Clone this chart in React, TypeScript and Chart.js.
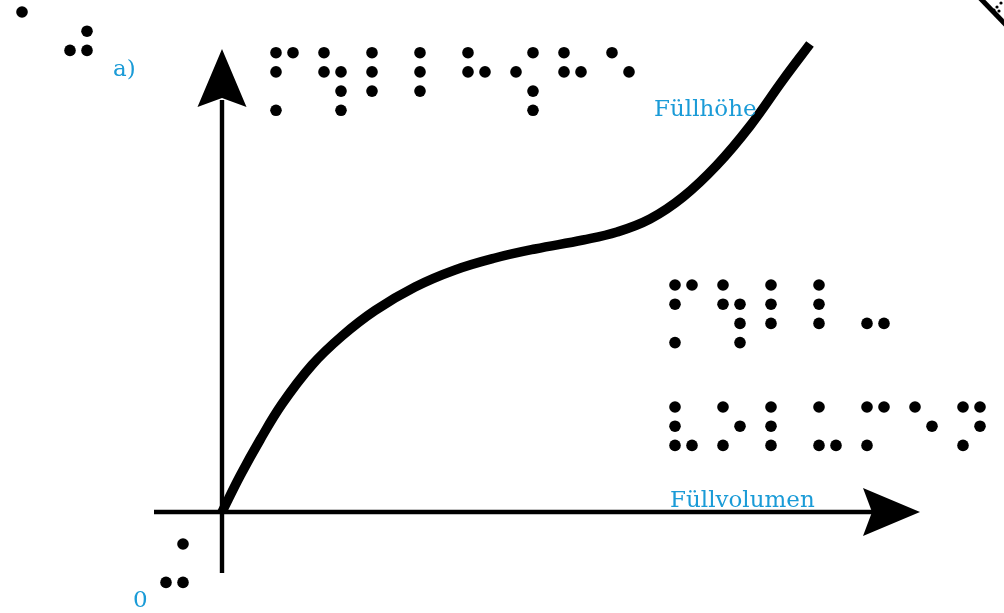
import React, { useEffect, useRef } from 'react';
import { Chart, registerables } from 'chart.js';
Chart.register(...registerables);

// Füllvolumen (x) and Füllhöhe (y) in arbitrary units
const volume = [0, 0.3, 0.633, 1.0, 1.5, 2.0, 2.55, 3.217, 3.883, 4.55, 5.217, 6.017, 6.583, 7.133, 7.683, 8.25, 8.8, 9.35, 9.8];
const fillHeight = [0, 0.766, 1.532, 2.298, 3.128, 3.745, 4.287, 4.787, 5.149, 5.404, 5.596, 5.787, 5.957, 6.234, 6.702, 7.383, 8.213, 9.191, 9.957];

const xAxisTitle = 'Füllvolumen';
const yAxisTitle = 'Füllhöhe';
const originLabel = '0';
const panelLabel = 'a)';

// Braille (8-dot) cells, dot numbers
const brailleYTitle = [[1, 2, 4, 7], [1, 2, 5, 6, 8], [1, 2, 3], [1, 2, 3], [1, 2, 5], [2, 4, 6, 8], [1, 2, 5], [1, 5]];
const brailleXTitle1 = [[1, 2, 4, 7], [1, 2, 5, 6, 8], [1, 2, 3], [1, 2, 3], [3, 6]];
const brailleXTitle2 = [[1, 2, 3, 6], [1, 3, 5], [1, 2, 3], [1, 3, 6], [1, 3, 4], [1, 5], [1, 3, 4, 5]];
const braillePanel = [[1], [3, 5, 6]];
const brailleOrigin = [[3, 4, 6]];

const BLUE = '#1a9bd7';
const DOT_POS: Record<number, [number, number]> = {
  1: [0, 0], 2: [0, 1], 3: [0, 2], 4: [1, 0], 5: [1, 1], 6: [1, 2], 7: [0, 3], 8: [1, 3],
};

function drawBraille(ctx: CanvasRenderingContext2D, cells: number[][], x: number, y: number) {
  const pitch = 48, colGap = 17, rowGap = 19.2, r = 5.8;
  ctx.fillStyle = '#000';
  cells.forEach((cell, i) => {
    cell.forEach((d) => {
      const [c, rr] = DOT_POS[d];
      ctx.beginPath();
      ctx.arc(x + i * pitch + c * colGap, y + rr * rowGap, r, 0, Math.PI * 2);
      ctx.fill();
    });
  });
}

const tactilePlugin = {
  id: 'tactile',
  beforeDatasetsDraw(chart: any) {
    const ctx: CanvasRenderingContext2D = chart.ctx;
    const xs = chart.scales.x, ys = chart.scales.y;
    const ox = xs.getPixelForValue(0), oy = ys.getPixelForValue(0);
    ctx.save();
    ctx.strokeStyle = '#000';
    ctx.fillStyle = '#000';
    ctx.lineWidth = 4.4;
    ctx.lineCap = 'butt';
    // y axis
    ctx.beginPath();
    ctx.moveTo(ox, oy + 61);
    ctx.lineTo(ox, oy - 412);
    ctx.stroke();
    ctx.beginPath();
    ctx.moveTo(ox, oy - 463);
    ctx.lineTo(ox + 24.5, oy - 405);
    ctx.lineTo(ox, oy - 414);
    ctx.lineTo(ox - 24.5, oy - 405);
    ctx.closePath();
    ctx.fill();
    // x axis
    ctx.beginPath();
    ctx.moveTo(ox - 68, oy);
    ctx.lineTo(ox + 652, oy);
    ctx.stroke();
    ctx.beginPath();
    ctx.moveTo(ox + 698, oy);
    ctx.lineTo(ox + 641, oy - 24);
    ctx.lineTo(ox + 650, oy);
    ctx.lineTo(ox + 641, oy + 24);
    ctx.closePath();
    ctx.fill();
    ctx.restore();
  },
  afterDatasetsDraw(chart: any) {
    const ctx: CanvasRenderingContext2D = chart.ctx;
    const xs = chart.scales.x, ys = chart.scales.y;
    const ox = xs.getPixelForValue(0), oy = ys.getPixelForValue(0);
    ctx.save();
    // braille
    drawBraille(ctx, brailleYTitle, ox + 54, oy - 459.3);
    drawBraille(ctx, brailleXTitle1, ox + 453, oy - 227);
    drawBraille(ctx, brailleXTitle2, ox + 453, oy - 105);
    drawBraille(ctx, braillePanel, ox - 200, oy - 500);
    drawBraille(ctx, brailleOrigin, ox - 56, oy + 32);
    // print labels
    ctx.fillStyle = BLUE;
    ctx.textBaseline = 'alphabetic';
    ctx.textAlign = 'left';
    ctx.font = '23px "DejaVu Serif"';
    ctx.fillText(yAxisTitle, ox + 432, oy - 396);
    ctx.fillText(xAxisTitle, ox + 448, oy - 5.5);
    ctx.fillText(originLabel, ox - 89, oy + 95);
    ctx.fillText(panelLabel, ox - 109, oy - 436);
    // cut-off corner mark (top right)
    ctx.strokeStyle = '#000';
    ctx.lineWidth = 5;
    ctx.beginPath();
    ctx.moveTo(ox + 758, oy - 514);
    ctx.lineTo(ox + 784, oy - 487);
    ctx.stroke();
    ctx.fillStyle = '#000';
    [[779, -509], [775, -505], [772, -502], [777, -501]].forEach(([dx, dy]) => {
      ctx.beginPath();
      ctx.arc(ox + dx, oy + dy, 1.6, 0, Math.PI * 2);
      ctx.fill();
    });
    ctx.restore();
  },
};

export default function App() {
  const ref = useRef<HTMLCanvasElement>(null);
  useEffect(() => {
    if (!ref.current) return;
    const chart = new Chart(ref.current, {
      type: 'line',
      data: {
        datasets: [
          {
            data: volume.map((v, i) => ({ x: v, y: fillHeight[i] })),
            borderColor: '#000',
            borderWidth: 9.5,
            borderCapStyle: 'butt',
            borderJoinStyle: 'round',
            pointRadius: 0,
            tension: 0.4,
            fill: false,
            clip: false,
          } as any,
        ],
      },
      options: {
        animation: false,
        responsive: false,
        events: [],
        layout: { padding: { left: 222, right: 182, top: 42, bottom: 101 } },
        plugins: { legend: { display: false }, tooltip: { enabled: false }, title: { display: false } },
        scales: {
          x: { type: 'linear', min: 0, max: 10, display: false },
          y: { type: 'linear', min: 0, max: 10, display: false },
        },
      },
      plugins: [tactilePlugin],
    });
    return () => chart.destroy();
  }, []);
  return (
    <div style={{ position: 'absolute', left: 0, top: 0, width: 1004, height: 613, background: '#fff' }}>
      <canvas ref={ref} width={1004} height={613} style={{ display: 'block' }} />
    </div>
  );
}
